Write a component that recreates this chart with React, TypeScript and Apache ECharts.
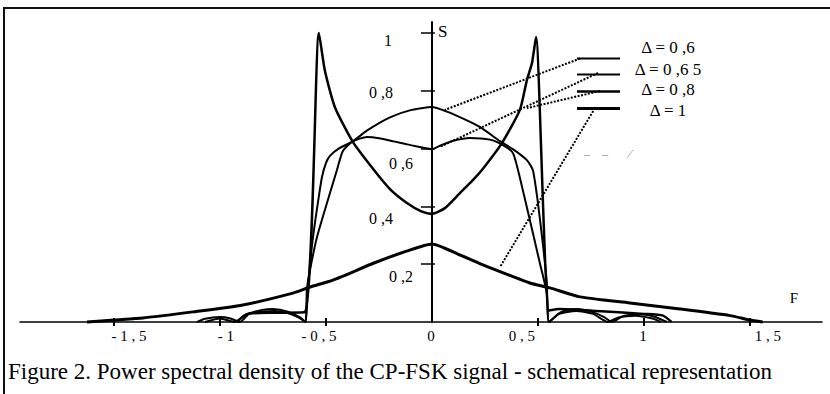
import React, { useEffect, useRef } from 'react';
import * as echarts from 'echarts';

const FONT = '"Liberation Serif", "Times New Roman", serif';

// Legend / series names
const seriesNames = ['Δ = 0 ,6', 'Δ = 0 ,6 5', 'Δ = 0 ,8', 'Δ = 1'];

// Δ = 0,6 : dome-shaped main lobe with side lobes
const delta06: number[][] = [
  [-1.108, 0], [-1.07, 0.011], [-1.0, 0.017], [-0.95, 0.012], [-0.906, 0],
  [-0.86, 0.03], [-0.8, 0.042], [-0.75, 0.045], [-0.68, 0.036], [-0.62, 0.015], [-0.596, 0],
  [-0.585, 0.12], [-0.575, 0.2], [-0.561, 0.294], [-0.538, 0.412], [-0.519, 0.5], [-0.5, 0.55],
  [-0.481, 0.575], [-0.44, 0.6], [-0.373, 0.625], [-0.307, 0.662], [-0.198, 0.708], [-0.1, 0.733], [0, 0.744],
  [0.071, 0.728], [0.15, 0.703], [0.226, 0.675], [0.321, 0.626], [0.382, 0.598], [0.448, 0.56],
  [0.476, 0.526], [0.495, 0.44], [0.51, 0.353], [0.528, 0.24], [0.542, 0.135], [0.552, 0],
  [0.6, 0.03], [0.65, 0.043], [0.684, 0.045], [0.75, 0.036], [0.81, 0.018], [0.849, 0],
  [0.9, 0.02], [0.98, 0.028], [1.05, 0.018], [1.108, 0],
];

// Δ = 0,65 : flat-topped, slightly bimodal
const delta065: number[][] = [
  [-1.07, 0], [-1.0, 0.012], [-0.93, 0],
  [-0.88, 0.025], [-0.8, 0.036], [-0.74, 0.038], [-0.67, 0.028], [-0.62, 0.012], [-0.596, 0],
  [-0.59, 0.11], [-0.575, 0.18], [-0.542, 0.294], [-0.495, 0.412], [-0.448, 0.526], [-0.42, 0.592],
  [-0.373, 0.625], [-0.307, 0.64], [-0.25, 0.636], [-0.18, 0.625], [-0.1, 0.612], [-0.04, 0.603], [0, 0.598],
  [0.038, 0.61], [0.1, 0.627], [0.179, 0.637], [0.274, 0.631], [0.335, 0.612], [0.382, 0.585],
  [0.406, 0.526], [0.434, 0.44], [0.462, 0.353], [0.509, 0.204], [0.542, 0.1], [0.552, 0],
  [0.6, 0.028], [0.68, 0.038], [0.76, 0.028], [0.83, 0],
  [0.88, 0.016], [0.96, 0.022], [1.04, 0.012], [1.08, 0],
];

// Δ = 0,8 : sharp peaks near ±0,5
const delta08: number[][] = [
  [-0.92, 0], [-0.87, 0.028], [-0.75, 0.032], [-0.6, 0.034],
  [-0.533, 1.0], [-0.505, 0.87], [-0.458, 0.744], [-0.373, 0.623], [-0.278, 0.53], [-0.198, 0.46],
  [-0.118, 0.412], [-0.05, 0.383], [0, 0.374],
  [0.061, 0.394], [0.132, 0.446], [0.193, 0.491], [0.236, 0.526], [0.33, 0.619], [0.415, 0.734],
  [0.448, 0.837], [0.472, 0.896], [0.491, 0.986],
  [0.552, 0.04], [0.6, 0.045], [0.8, 0.037], [1.0, 0.028], [1.09, 0.022], [1.13, 0],
];

// Δ = 1 : low tent-shaped spectrum with long tails
const delta1: number[][] = [
  [-1.627, 0], [-1.5, 0.007], [-1.363, 0.014], [-1.127, 0.035], [-0.892, 0.059], [-0.656, 0.1],
  [-0.575, 0.121], [-0.467, 0.145], [-0.27, 0.205], [-0.12, 0.245], [0, 0.27],
  [0.12, 0.236], [0.226, 0.202], [0.33, 0.172], [0.462, 0.135], [0.557, 0.118], [0.698, 0.087],
  [0.934, 0.066], [1.17, 0.045], [1.406, 0.022], [1.5, 0.007], [1.56, 0],
];

const seriesData = [delta06, delta065, delta08, delta1];

// Axis ticks and labels
const xTickValues = [-1.5, -1, -0.5, 0.5, 1, 1.5];
const xLabelValues = [-1.5, -1, -0.5, 0, 0.5, 1, 1.5];
const xLabelTexts = ['- 1 , 5', '- 1', '- 0 , 5', '0', '0 , 5', '1', '1 , 5'];
const yTickValues = [0.2, 0.4, 0.6, 0.8, 1];
const yLabelTexts = ['0 ,2', '0 ,4', '0 ,6', '0 ,8', '1'];

// Points on the curves where the dotted leader lines end (data coords)
const leaderTargets: number[][] = [[0.061, 0.734], [0.038, 0.606], [0.448, 0.74], [0.321, 0.19]];

const captionText = 'Figure 2. Power spectral density of the CP-FSK signal - schematical representation';

// ----- styling / layout (not data) -----
const X_MIN = -1.943;
const X_MAX = 1.84;
const Y_MAX = 1.038;
const GRID = { left: 20, right: 8, top: 22, bottom: 72 };
const W = 830;
const H = 394;
const xLabelShift = [15, 6, -7, -1, -16, -1, 18];
const yLabelPad = [[24, 0, 0, 0], [24, 20, 0, 0], [30, 0, 0, 0], [4, 20, 0, 0], [16, 21, 0, 0]];
const legendStart = [[580, 58.5], [598, 73], [600, 91], [595, 108]];
const legendTops = [39, 61, 81, 98];
const legendPad = [[0, 0, 22, 0], [0, 0, 10, 0], [0, 0, 4, 0], [4, 0, 0, 0]];
const lineWidths = [2, 2, 2.5, 3];

const idxOf = (arr: number[], v: number) => arr.findIndex((a) => Math.abs(a - v) < 1e-6);

export default function App() {
  const ref = useRef<HTMLDivElement>(null);

  useEffect(() => {
    if (!ref.current) return;
    const chart = echarts.init(ref.current, null, { renderer: 'svg' });

    // move the y axis onto x = 0 of the x scale
    const gridW = W - GRID.left - GRID.right;
    const yAxisOffset = -((0 - X_MIN) / (X_MAX - X_MIN)) * gridW;

    const xRich: any = {};
    xLabelShift.forEach((s, i) => {
      xRich['x' + i] = {
        fontFamily: FONT, fontSize: 15, color: '#000',
        padding: s >= 0 ? [0, 0, 0, 2 * s] : [0, -2 * s, 0, 0],
      };
    });
    const yRich: any = {};
    yLabelPad.forEach((p, i) => {
      yRich['y' + i] = { fontFamily: FONT, fontSize: 16, color: '#000', padding: p };
    });

    const option: any = {
      animation: false,
      backgroundColor: '#fff',
      title: {
        text: captionText,
        left: 8,
        top: 360,
        padding: 0,
        textStyle: { fontFamily: FONT, fontSize: 23, fontWeight: 'normal', color: '#000' },
      },
      grid: { ...GRID, containLabel: false, outerBoundsMode: 'none' },
      legend: seriesNames.map((name, i) => ({
        data: [name],
        left: 577,
        top: legendTops[i],
        padding: 0,
        orient: 'vertical',
        icon: 'rect',
        itemWidth: 43,
        itemHeight: lineWidths[i],
        selectedMode: false,
        formatter: (n: string) => `{t${i}|${n}}`,
        textStyle: {
          fontFamily: FONT, fontSize: 17, color: '#000',
          rich: {
            ['t' + i]: {
              fontFamily: FONT, fontSize: 17, color: '#000', lineHeight: 16,
              width: 86, align: 'center', padding: legendPad[i],
            },
          },
        },
      })),
      xAxis: [
        {
          type: 'value', min: X_MIN, max: X_MAX,
          axisLine: { show: true, onZero: false, lineStyle: { color: '#000', width: 1.5 } },
          axisTick: { show: true, customValues: xTickValues, length: 4, lineStyle: { color: '#000', width: 2 } },
          axisLabel: {
            customValues: xLabelValues, margin: 6, fontFamily: FONT, fontSize: 15, color: '#000',
            formatter: (v: number) => {
              const i = idxOf(xLabelValues, v);
              return i < 0 ? '' : `{x${i}|${xLabelTexts[i]}}`;
            },
            rich: xRich,
          },
          splitLine: { show: false },
          name: '{f|F}', nameLocation: 'end', nameGap: -28, nameMoveOverlap: false,
          nameTextStyle: {
            fontFamily: FONT, fontSize: 15, color: '#000', align: 'center',
            rich: { f: { fontFamily: FONT, fontSize: 15, color: '#000', padding: [0, 0, 48, 0] } },
          },
        },
        {
          type: 'value', min: X_MIN, max: X_MAX, position: 'bottom',
          axisLine: { show: false, onZero: false },
          axisTick: { show: true, inside: true, customValues: xTickValues, length: 4, lineStyle: { color: '#000', width: 2 } },
          axisLabel: { show: false },
          splitLine: { show: false },
        },
      ],
      yAxis: [
        {
          type: 'value', min: 0, max: Y_MAX, position: 'left', offset: yAxisOffset,
          axisLine: { show: true, onZero: false, lineStyle: { color: '#000', width: 2 } },
          axisTick: { show: true, customValues: yTickValues, length: 11, lineStyle: { color: '#000', width: 1.5 } },
          axisLabel: {
            customValues: yTickValues, margin: 19, fontFamily: FONT, fontSize: 16, color: '#000',
            formatter: (v: number) => {
              const i = idxOf(yTickValues, v);
              return i < 0 ? '' : `{y${i}|${yLabelTexts[i]}}`;
            },
            rich: yRich,
          },
          splitLine: { show: false },
          name: 'S', nameLocation: 'end', nameGap: -9, nameMoveOverlap: false,
          nameTextStyle: { fontFamily: FONT, fontSize: 17, color: '#000', align: 'left', verticalAlign: 'middle', padding: [0, 0, 0, 6] },
        },
        {
          type: 'value', min: 0, max: Y_MAX, position: 'left', offset: yAxisOffset,
          axisLine: { show: false, onZero: false },
          axisTick: { show: true, inside: true, customValues: yTickValues, length: 3, lineStyle: { color: '#000', width: 1.5 } },
          axisLabel: { show: false },
          splitLine: { show: false },
        },
      ],
      series: seriesNames.map((name, i) => ({
        name,
        type: 'line',
        xAxisIndex: 0,
        yAxisIndex: 0,
        data: seriesData[i],
        symbol: 'none',
        showSymbol: false,
        smooth: 0.2,
        clip: false,
        lineStyle: { color: '#000', width: lineWidths[i] },
        itemStyle: { color: '#000' },
        z: 3,
      })),
    };

    chart.setOption(option);

    const leaders = leaderTargets.map((t, i) => {
      const p = chart.convertToPixel({ xAxisIndex: 0, yAxisIndex: 0 }, t) as number[];
      return {
        type: 'line',
        id: 'leader' + i,
        silent: true,
        z: 5,
        shape: { x1: legendStart[i][0], y1: legendStart[i][1], x2: p[0], y2: p[1] },
        style: { stroke: '#000', lineWidth: 2, lineDash: [2, 1.5] },
      };
    });

    chart.setOption({
      graphic: [
        {
          type: 'line',
          id: 'frameTop',
          silent: true,
          z: 6,
          shape: { x1: 3, y1: 8, x2: W, y2: 8 },
          style: { stroke: '#111', lineWidth: 2 },
        },
        {
          type: 'line',
          id: 'frameLeft',
          silent: true,
          z: 6,
          shape: { x1: 4, y1: 7, x2: 4, y2: H },
          style: { stroke: '#111', lineWidth: 2 },
        },
        {
          type: 'text',
          id: 'scanMarks',
          silent: true,
          z: 6,
          left: 584,
          top: 148,
          style: { text: '–    –       ⁄', fill: '#888', fontFamily: FONT, fontSize: 12 },
        },
        ...leaders,
      ],
    });

    return () => chart.dispose();
  }, []);

  return (
    <div
      ref={ref}
      style={{ position: 'fixed', left: 0, top: 0, width: W, height: H, background: '#fff' }}
    />
  );
}
